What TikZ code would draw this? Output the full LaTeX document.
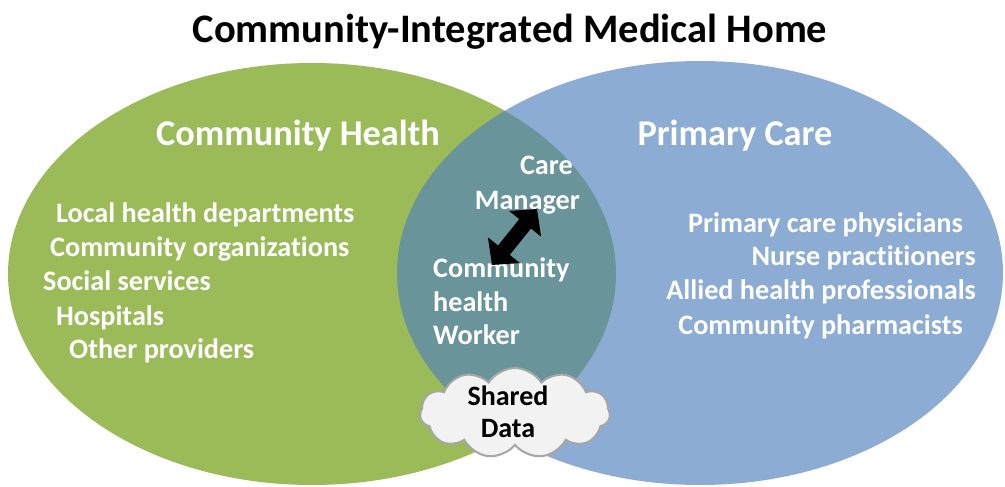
\documentclass[tikz,border=0pt]{standalone}
\usepackage{fontspec}
\setmainfont[Ligatures=NoCommon]{Carlito}
\usetikzlibrary{arrows.meta,shapes.symbols}

\definecolor{chgreen}{HTML}{9BBB59}
\definecolor{pcblue}{HTML}{4F81BD}
\definecolor{cloudfill}{HTML}{F2F2F2}
\definecolor{cloudline}{HTML}{A6A6A6}

\tikzset{
  title/.style={font=\fontsize{40.5}{46}\selectfont\bfseries, text=black, inner sep=0pt},
  header/.style={font=\fontsize{36.3}{40}\selectfont\bfseries, text=white, inner sep=0pt},
  item/.style={font=\fontsize{28.2}{32}\selectfont\bfseries, text=white, inner sep=0pt},
  datacloud/.style={cloud, cloud puffs=11, cloud puff arc=115, aspect=2.1,
    draw=cloudline, line width=2pt, fill=cloudfill,
    minimum width=190pt, minimum height=90pt, inner sep=0pt},
  cloudtext/.style={font=\fontsize{28}{33}\selectfont\bfseries, text=black,
    align=center, inner sep=0pt},
  linkarrow/.style={line width=15pt, draw=black,
    {Triangle[length=19pt,width=40pt]}-{Triangle[length=19pt,width=40pt]}}
}

\begin{document}
\begin{tikzpicture}[x=1pt,y=-1pt]
  \useasboundingbox (0,0) rectangle (1005,487);
  \fill[white] (0,0) rectangle (1005,487);

  % the two overlapping domains
  \fill[chgreen] (312,274) ellipse [x radius=304pt, y radius=211pt];
  \fill[pcblue, opacity=0.65] (700,273) ellipse [x radius=303pt, y radius=212pt];

  % title
  \node[title, anchor=base] (ttl) at (510,43) {Community-Integrated Medical Home};

  % domain headers
  \node[header, anchor=base] (hch) at (298,146) {Community Health};
  \node[header, anchor=base] (hpc) at (735,146) {Primary Care};

  % community health members
  \node[item, anchor=base west] (l1) at (56,222) {Local health departments};
  \node[item, anchor=base west] (l2) at (50,256) {Community organizations};
  \node[item, anchor=base west] (l3) at (43,290) {Social services};
  \node[item, anchor=base west] (l4) at (56,325) {Hospitals};
  \node[item, anchor=base west] (l5) at (69,358) {Other providers};

  % primary care members
  \node[item, anchor=base east] (r1) at (963,232) {Primary care physicians};
  \node[item, anchor=base east] (r2) at (976,265) {Nurse practitioners};
  \node[item, anchor=base east] (r3) at (976,299) {Allied health professionals};
  \node[item, anchor=base east] (r4) at (963,334) {Community pharmacists};

  % shared roles in the overlap
  \node[item, anchor=base east] (cm1) at (573,175) {Care};
  \node[item, anchor=base east] (cm2) at (580,209) {Manager};
  \node[item, anchor=base west] (cw1) at (433,277) {Community};
  \node[item, anchor=base west] (cw2) at (433,311) {health};
  \node[item, anchor=base west] (cw3) at (433,344) {Worker};

  % link between care manager and community health worker
  \coordinate (armtop) at (537,209);
  \coordinate (armbot) at (492,265);
  \draw[linkarrow] (armbot) -- (armtop);

  % shared data cloud
  \node[datacloud] (data) at (515,413) {};
  \node[cloudtext] (datatxt) at (508,412) {Shared\\[-1pt]Data};
\end{tikzpicture}
\end{document}
